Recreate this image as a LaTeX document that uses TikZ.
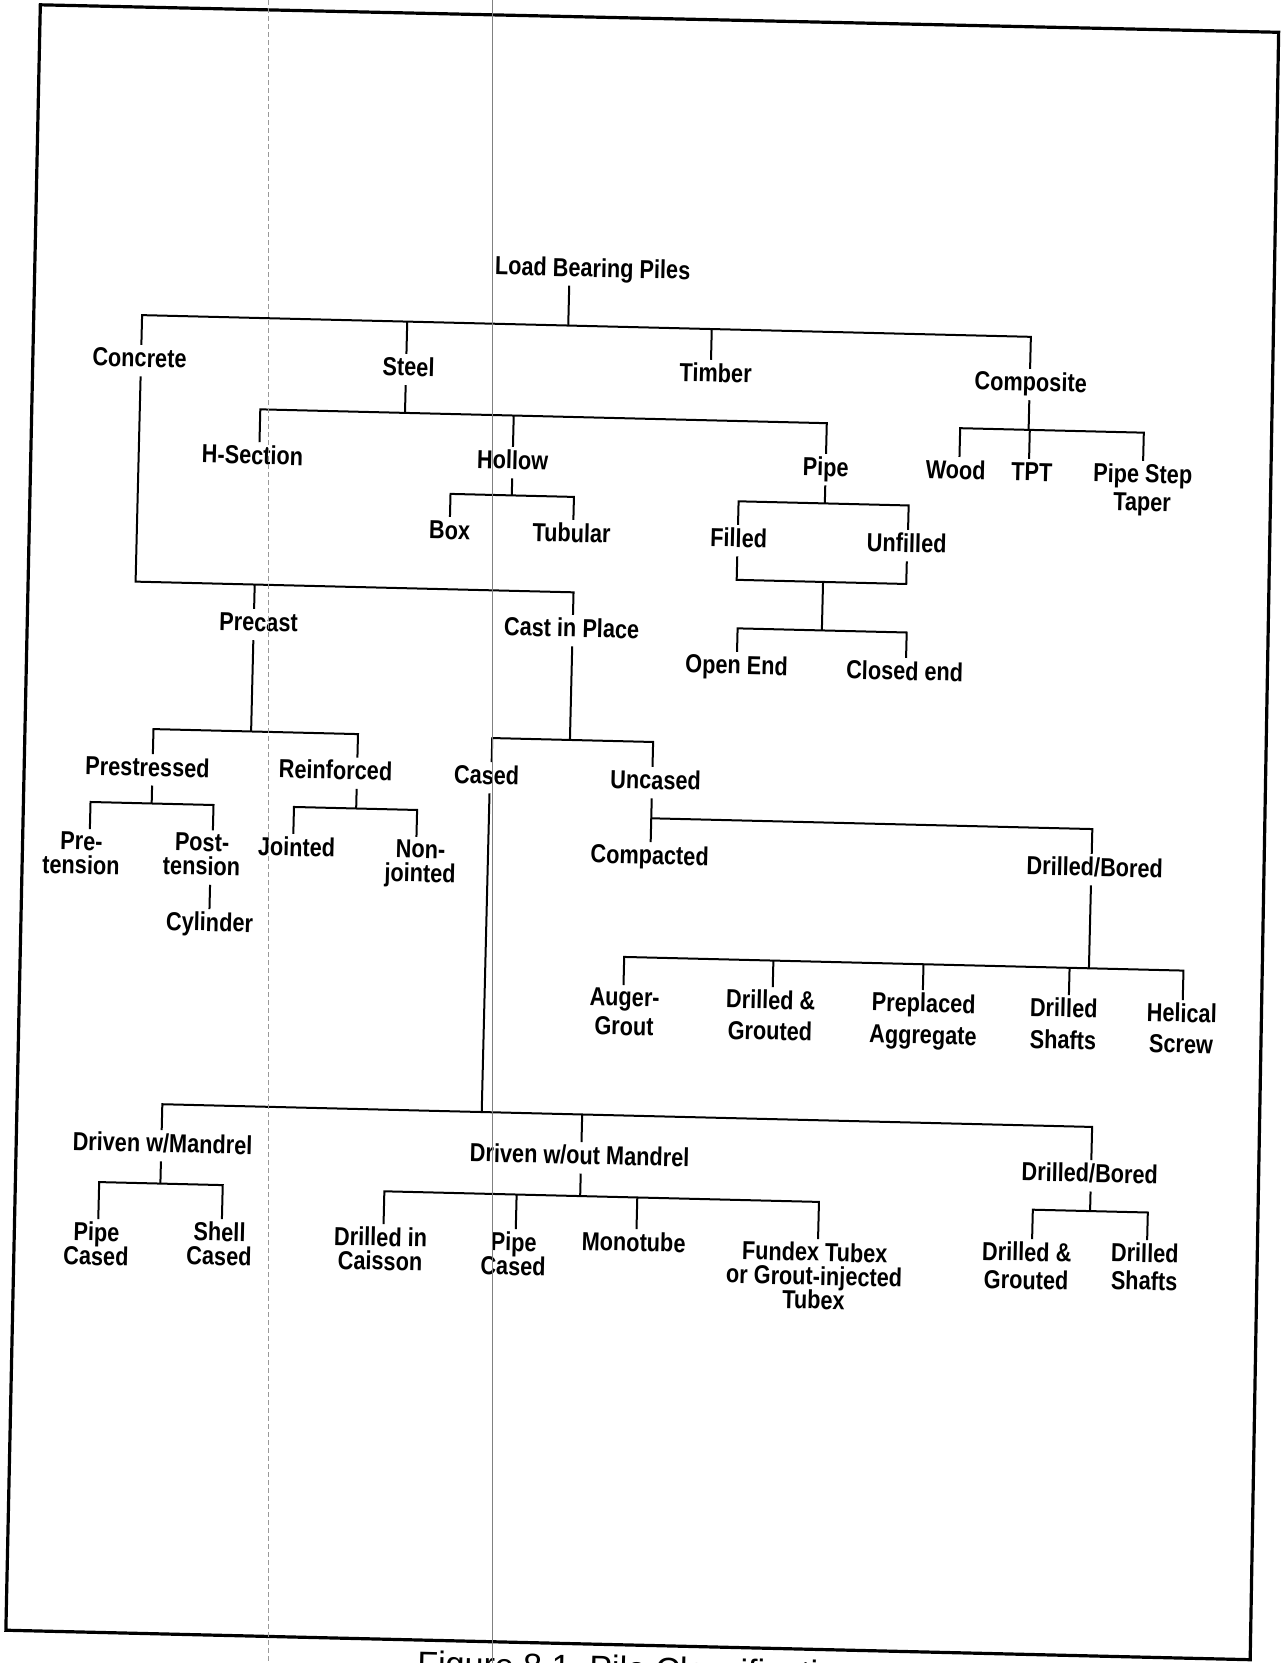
\documentclass[tikz,border=0pt]{standalone}
\usepackage{fontspec}
\setmainfont{Liberation Sans}
\newfontfamily\lblfamily{Liberation Sans}[FakeStretch=0.835]
\AtBeginDocument{\lineskiplimit=-50pt\relax}
\makeatletter
\def\ic@x{0}\def\ic@y{0}
\pgfkeys{/tikz/imgcs/.cd, x/.store in=\ic@x, y/.store in=\ic@y}
\tikzdeclarecoordinatesystem{img}{%
  \pgfkeys{/tikz/imgcs/.cd,#1}%
  \pgfmathsetmacro\ic@X{\ic@x+0.02444*(\ic@y-831)}%
  \pgfmathsetmacro\ic@Y{\ic@y-0.02444*(\ic@x-641)}%
  \pgfpointxy{\ic@X}{\ic@Y}%
}
\makeatother
\begin{document}
\begin{tikzpicture}[x=1pt,y=-1pt,
  lb/.style={font=\lblfamily\bfseries\fontsize{26}{24}\selectfont, inner sep=3pt, anchor=north, text height=19pt, text depth=6pt},
  ml/.style={font=\lblfamily\bfseries\fontsize{26}{24}\selectfont, inner sep=3pt, anchor=north, align=center},
  ln/.style={line width=2pt},
  fr/.style={line width=3.2pt, line join=miter}]
\useasboundingbox (0,0) rectangle (1282,1663);
\fill[white] (0,0) rectangle (1282,1663);
\clip (0,0) rectangle (1282,1663);
\begin{scope}[transform canvas={rotate around={-1.4:(641,831)}}]
% frame
\draw[fr] (img cs:x=40.5,y=5) -- (img cs:x=1278.5,y=32.5) -- (img cs:x=1250,y=1659.5) -- (img cs:x=6,y=1630) -- cycle;
% nodes
\node[lb] (root) at (img cs:x=593,y=255) {Load Bearing Piles};
\node[lb] (conc) at (img cs:x=140,y=345) {Concrete};
\node[lb] (steel) at (img cs:x=409,y=354) {Steel};
\node[lb] (timb) at (img cs:x=716,y=360) {Timber};
\node[lb] (compo) at (img cs:x=1031,y=369) {Composite};
\node[lb] (hsec) at (img cs:x=253,y=442) {H-Section};
\node[lb] (hollow) at (img cs:x=513,y=447) {Hollow};
\node[lb] (pipe) at (img cs:x=826,y=454) {Pipe};
\node[lb] (box) at (img cs:x=450,y=517) {Box};
\node[lb] (tub) at (img cs:x=572,y=520) {Tubular};
\node[lb] (wood) at (img cs:x=956,y=457) {Wood};
\node[lb] (tpt) at (img cs:x=1032,y=459) {TPT};
\node[ml] (pst) at (img cs:x=1143,y=461) {Pipe Step\\[4pt]Taper};
\node[lb] (filled) at (img cs:x=739,y=525) {Filled};
\node[lb] (unfilled) at (img cs:x=907,y=530) {Unfilled};
\node[lb] (openend) at (img cs:x=737,y=652) {Open End};
\node[lb] (closedend) at (img cs:x=905,y=658) {Closed end};
\node[lb] (precast) at (img cs:x=259,y=609) {Precast};
\node[lb] (cip) at (img cs:x=572,y=615) {Cast in Place};
\node[lb] (prestr) at (img cs:x=148,y=754) {Prestressed};
\node[lb] (reinf) at (img cs:x=336,y=757) {Reinforced};
\node[ml] (pre) at (img cs:x=82,y=829) {Pre-\\tension};
\node[ml] (post) at (img cs:x=202.5,y=830) {Post-\\tension};
\node[lb] (cyl) at (img cs:x=210,y=909) {Cylinder};
\node[lb] (joint) at (img cs:x=297,y=834) {Jointed};
\node[ml] (nonj) at (img cs:x=421,y=837) {Non-\\jointed};
\node[lb] (cased) at (img cs:x=487,y=762) {Cased};
\node[lb] (uncased) at (img cs:x=656,y=767) {Uncased};
\node[lb] (compact) at (img cs:x=650,y=842) {Compacted};
\node[lb] (db1) at (img cs:x=1095,y=854) {Drilled/Bored};
\node[ml] (auger) at (img cs:x=625,y=985) {Auger-\\[5pt]Grout};
\node[ml] (dg1) at (img cs:x=771,y=987) {Drilled \&\\[7pt]Grouted};
\node[ml] (prep) at (img cs:x=924,y=990) {Preplaced\\[8pt]Aggregate};
\node[ml] (ds1) at (img cs:x=1064,y=995) {Drilled\\[8pt]Shafts};
\node[ml] (hel) at (img cs:x=1182,y=1000) {Helical\\[7pt]Screw};
\node[lb] (dwm) at (img cs:x=163,y=1130) {Driven w/Mandrel};
\node[lb] (dwo) at (img cs:x=580,y=1142) {Driven w/out Mandrel};
\node[lb] (db2) at (img cs:x=1090,y=1160) {Drilled/Bored};
\node[ml] (pc1) at (img cs:x=97,y=1219) {Pipe\\Cased};
\node[ml] (sc) at (img cs:x=220,y=1219) {Shell\\Cased};
\node[ml] (dic) at (img cs:x=381,y=1224) {Drilled in\\Caisson};
\node[ml] (pc2) at (img cs:x=514,y=1229) {Pipe\\Cased};
\node[lb] (mono) at (img cs:x=634,y=1229) {Monotube};
\node[ml] (fund) at (img cs:x=815,y=1239) {Fundex Tubex\\or Grout-injected\\Tubex};
\node[ml] (dg2) at (img cs:x=1027,y=1239) {Drilled \&\\[4pt]Grouted};
\node[ml] (ds2) at (img cs:x=1145,y=1240) {Drilled\\[4pt]Shafts};
\node[font=\fontsize{34}{36}\selectfont, anchor=base west, inner sep=0pt] (cap) at (img cs:x=417,y=1675) {Figure 8.1~~Pile~Classification};
% bar coordinates
\coordinate (b0) at (img cs:x=570,y=325.7);
\coordinate (bst) at (img cs:x=406,y=413);
\coordinate (bho) at (img cs:x=513,y=495.5);
\coordinate (bpi) at (img cs:x=825,y=503.5);
\coordinate (bjo) at (img cs:x=823,y=582);
\coordinate (bop) at (img cs:x=823,y=630.5);
\coordinate (bco) at (img cs:x=1030,y=430);
\coordinate (bcc) at (img cs:x=137,y=581.7);
\coordinate (bca) at (img cs:x=571.5,y=740);
\coordinate (bpr) at (img cs:x=252,y=731.5);
\coordinate (bps) at (img cs:x=153,y=803.5);
\coordinate (bre) at (img cs:x=357,y=808.5);
\coordinate (bun) at (img cs:x=652,y=818.3);
\coordinate (bd1) at (img cs:x=1090.5,y=968.3);
\coordinate (bbo) at (img cs:x=484,y=1112);
\coordinate (bma) at (img cs:x=161.8,y=1183.5);
\coordinate (bwo) at (img cs:x=581,y=1196);
\coordinate (bd2) at (img cs:x=1090,y=1211);
% connectors
\draw[ln] ([xshift=-23pt]root.south) -- ([xshift=-23pt]root.south |- b0);
\draw[ln] ([xshift=1.5pt]conc.north) |- (b0) -| ([xshift=-1pt]compo.north);
\draw[ln] ([xshift=-2.5pt]steel.north) -- ([xshift=-2.5pt]steel.north |- b0);
\draw[ln] ([xshift=-5pt]timb.north) -- ([xshift=-5pt]timb.north |- b0);
% steel
\draw[ln] ([xshift=-2.5pt]steel.south) -- ([xshift=-2.5pt]steel.south |- bst);
\draw[ln] ([xshift=6.6pt]hsec.north) |- (bst) -| (pipe.north);
\draw[ln] (hollow.north) -- (hollow.north |- bst);
\draw[ln] (hollow.south) -- (hollow.south |- bho);
\draw[ln] (box.north) |- (bho) -| ([xshift=1.4pt]tub.north);
\draw[ln] (pipe.south) -- (pipe.south |- bpi);
\draw[ln] ([xshift=-1pt]filled.north) |- (bpi) -| ([xshift=1pt]unfilled.north);
\draw[ln] ([xshift=-1pt]filled.south) |- (bjo) -| ([xshift=0.5pt]unfilled.south);
\draw[ln] (bjo) -- (bjo |- bop);
\draw[ln] (openend.north) |- (bop) -| ([xshift=1pt]closedend.north);
% composite
\draw[ln] ([xshift=-1pt]compo.south) -- ([xshift=-1pt]compo.south |- bco);
\draw[ln] ([xshift=3.4pt]wood.north) |- (bco) -| (pst.north);
\draw[ln] ([xshift=-3pt]tpt.north) -- ([xshift=-3pt]tpt.north |- bco);
% concrete
\draw[ln] ([xshift=1.5pt]conc.south) |- (bcc) -| ([xshift=1pt]cip.north);
\draw[ln] ([xshift=-4.8pt]precast.north) -- ([xshift=-4.8pt]precast.north |- bcc);
% cast in place
\draw[ln] ([xshift=1pt]cip.south) -- ([xshift=1pt]cip.south |- bca);
\draw[ln] ([xshift=4.7pt]cased.north) |- (bca) -| ([xshift=-3.5pt]uncased.north);
% precast
\draw[ln] ([xshift=-4.8pt]precast.south) -- ([xshift=-4.8pt]precast.south |- bpr);
\draw[ln] ([xshift=5pt]prestr.north) |- (bpr) -| ([xshift=21.5pt]reinf.north);
\draw[ln] ([xshift=5pt]prestr.south) -- ([xshift=5pt]prestr.south |- bps);
\draw[ln] ([xshift=8pt]pre.north) |- (bps) -| ([xshift=10.5pt]post.north);
\draw[ln] ([xshift=9pt,yshift=-6pt]post.south) -- ([xshift=9pt]post.south |- cyl.north);
\draw[ln] ([xshift=21.5pt]reinf.south) -- ([xshift=21.5pt]reinf.south |- bre);
\draw[ln] ([xshift=-3.6pt]joint.north) |- (bre) -| ([xshift=-4.5pt]nonj.north);
% uncased
\draw[ln] ([xshift=-3.5pt]uncased.south) -- ([xshift=-3.5pt]uncased.south |- compact.north);
\draw[ln] (bun) -| ([xshift=-3.4pt]db1.north);
\draw[ln] ([xshift=-3.4pt]db1.south) -- ([xshift=-3.4pt]db1.south |- bd1);
\draw[ln] ([xshift=-1.5pt]auger.north) |- (bd1) -| ([xshift=0.6pt]hel.north);
\draw[ln] ([xshift=1.7pt]dg1.north) -- ([xshift=1.7pt]dg1.north |- bd1);
\draw[ln] ([xshift=-1.2pt]prep.north) -- ([xshift=-1.2pt]prep.north |- bd1);
\draw[ln] ([xshift=4.8pt]ds1.north) -- ([xshift=4.8pt]ds1.north |- bd1);
% cased
\draw[ln] ([xshift=3.3pt]cased.south) -- ([xshift=3.3pt]cased.south |- bbo);
\draw[ln] ([xshift=-1.2pt]dwm.north) |- (bbo) -| ([xshift=1.2pt]db2.north);
\draw[ln] ([xshift=1.5pt]dwo.north) -- ([xshift=1.5pt]dwo.north |- bbo);
\draw[ln] ([xshift=-1.2pt]dwm.south) -- ([xshift=-1.2pt]dwm.south |- bma);
\draw[ln] ([xshift=1.4pt]pc1.north) |- (bma) -| ([xshift=2pt]sc.north);
\draw[ln] ([xshift=1.5pt]dwo.south) -- ([xshift=1.5pt]dwo.south |- bwo);
\draw[ln] ([xshift=2.6pt]dic.north) |- (bwo) -| ([xshift=3pt]fund.north);
\draw[ln] ([xshift=1.8pt]pc2.north) -- ([xshift=1.8pt]pc2.north |- bwo);
\draw[ln] ([xshift=2.5pt]mono.north) -- ([xshift=2.5pt]mono.north |- bwo);
\draw[ln] ([xshift=1.2pt]db2.south) -- ([xshift=1.2pt]db2.south |- bd2);
\draw[ln] ([xshift=5pt]dg2.north) |- (bd2) -| ([xshift=2pt]ds2.north);
\end{scope}
% scanner streaks
\draw[black!40, line width=0.9pt, dash pattern=on 5pt off 3pt] (268,0) -- (268,1663);
\draw[black!50, line width=0.9pt] (492,0) -- (492,1663);
\end{tikzpicture}
\end{document}
